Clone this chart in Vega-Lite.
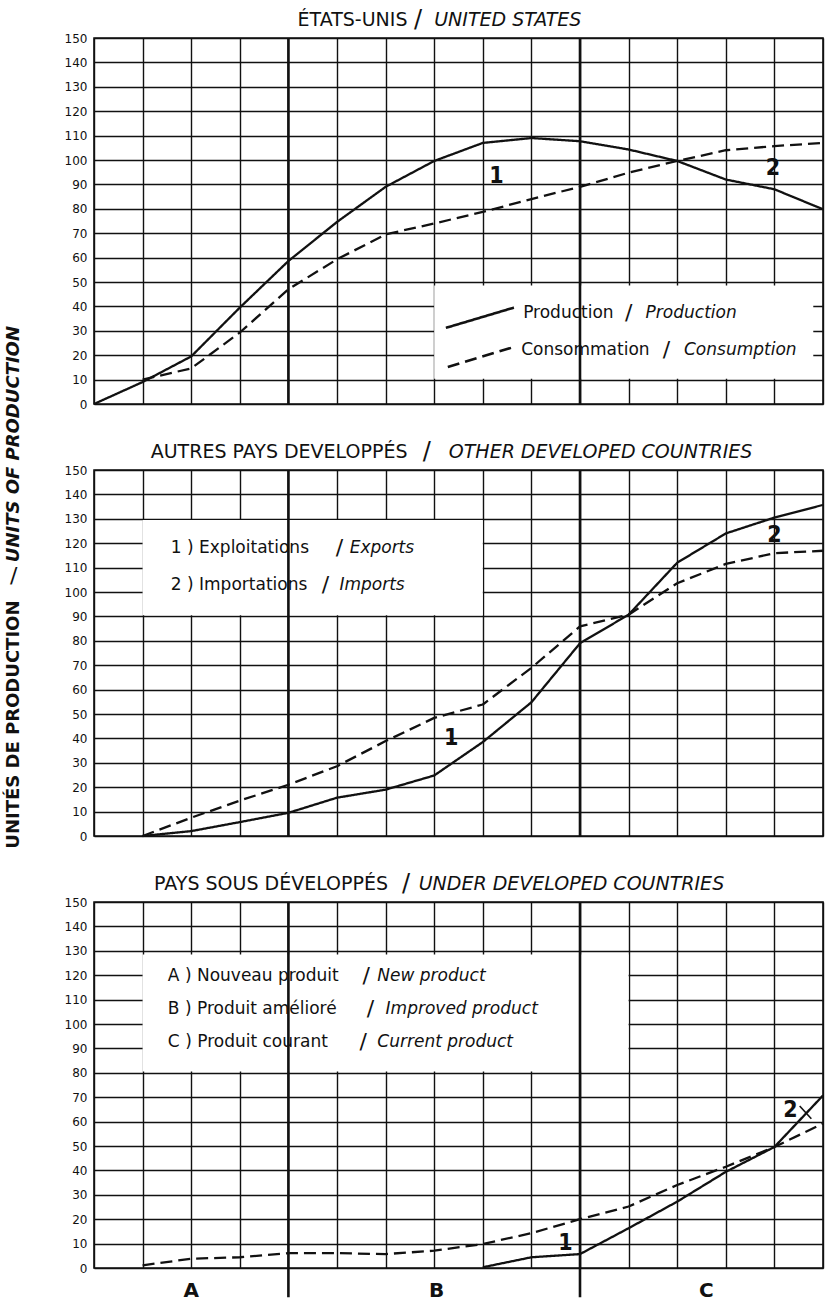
{
  "$schema": "https://vega.github.io/schema/vega-lite/v6.json",
  "background": "white",
  "padding": {"left": 4, "top": 6, "right": 5, "bottom": 4},
  "data": {"values": [
    {"panel":"US","kind":"box","x":7,"x2":14.8,"y":10.3,"y2":48.6},
    {"panel":"ODC","kind":"box","x":1,"x2":8,"y":90.5,"y2":129.5},
    {"panel":"UDC","kind":"box","x":1,"x2":11,"y":80.5,"y2":128.5},
    {"panel":"US","kind":"divider","x":4,"y":150,"y2":0},
    {"panel":"US","kind":"divider","x":10,"y":150,"y2":0},
    {"panel":"ODC","kind":"divider","x":4,"y":150,"y2":0},
    {"panel":"ODC","kind":"divider","x":10,"y":150,"y2":0},
    {"panel":"UDC","kind":"divider","x":4,"y":150,"y2":-12},
    {"panel":"UDC","kind":"divider","x":10,"y":150,"y2":-12},

    {"panel":"US","kind":"curve","series":"1","x":0,"y":0},
    {"panel":"US","kind":"curve","series":"1","x":1,"y":9},
    {"panel":"US","kind":"curve","series":"1","x":2,"y":19.5},
    {"panel":"US","kind":"curve","series":"1","x":3,"y":39.5},
    {"panel":"US","kind":"curve","series":"1","x":4,"y":58.6},
    {"panel":"US","kind":"curve","series":"1","x":5,"y":74.6},
    {"panel":"US","kind":"curve","series":"1","x":6,"y":89},
    {"panel":"US","kind":"curve","series":"1","x":7,"y":99.6},
    {"panel":"US","kind":"curve","series":"1","x":8,"y":107},
    {"panel":"US","kind":"curve","series":"1","x":9,"y":109},
    {"panel":"US","kind":"curve","series":"1","x":10,"y":107.7},
    {"panel":"US","kind":"curve","series":"1","x":11,"y":104.3},
    {"panel":"US","kind":"curve","series":"1","x":12,"y":99.6},
    {"panel":"US","kind":"curve","series":"1","x":13,"y":92},
    {"panel":"US","kind":"curve","series":"1","x":14,"y":88},
    {"panel":"US","kind":"curve","series":"1","x":15,"y":79.8},
    {"panel":"US","kind":"curve","series":"2","x":1,"y":10},
    {"panel":"US","kind":"curve","series":"2","x":2,"y":14.6},
    {"panel":"US","kind":"curve","series":"2","x":3,"y":29.3},
    {"panel":"US","kind":"curve","series":"2","x":4,"y":47},
    {"panel":"US","kind":"curve","series":"2","x":5,"y":59.3},
    {"panel":"US","kind":"curve","series":"2","x":6,"y":69.5},
    {"panel":"US","kind":"curve","series":"2","x":7,"y":74},
    {"panel":"US","kind":"curve","series":"2","x":8,"y":78.7},
    {"panel":"US","kind":"curve","series":"2","x":9,"y":84},
    {"panel":"US","kind":"curve","series":"2","x":10,"y":89},
    {"panel":"US","kind":"curve","series":"2","x":11,"y":94.8},
    {"panel":"US","kind":"curve","series":"2","x":12,"y":99.6},
    {"panel":"US","kind":"curve","series":"2","x":13,"y":104},
    {"panel":"US","kind":"curve","series":"2","x":14,"y":105.7},
    {"panel":"US","kind":"curve","series":"2","x":15,"y":107},

    {"panel":"ODC","kind":"curve","series":"1","x":1,"y":0},
    {"panel":"ODC","kind":"curve","series":"1","x":2,"y":2},
    {"panel":"ODC","kind":"curve","series":"1","x":3,"y":5.7},
    {"panel":"ODC","kind":"curve","series":"1","x":4,"y":9.5},
    {"panel":"ODC","kind":"curve","series":"1","x":5,"y":15.7},
    {"panel":"ODC","kind":"curve","series":"1","x":6,"y":19},
    {"panel":"ODC","kind":"curve","series":"1","x":7,"y":24.8},
    {"panel":"ODC","kind":"curve","series":"1","x":8,"y":38.5},
    {"panel":"ODC","kind":"curve","series":"1","x":9,"y":54.8},
    {"panel":"ODC","kind":"curve","series":"1","x":10,"y":79},
    {"panel":"ODC","kind":"curve","series":"1","x":11,"y":90.7},
    {"panel":"ODC","kind":"curve","series":"1","x":12,"y":112},
    {"panel":"ODC","kind":"curve","series":"1","x":13,"y":124},
    {"panel":"ODC","kind":"curve","series":"1","x":14,"y":130.5},
    {"panel":"ODC","kind":"curve","series":"1","x":15,"y":135.7},
    {"panel":"ODC","kind":"curve","series":"2","x":1,"y":0},
    {"panel":"ODC","kind":"curve","series":"2","x":2,"y":7.5},
    {"panel":"ODC","kind":"curve","series":"2","x":3,"y":14.5},
    {"panel":"ODC","kind":"curve","series":"2","x":4,"y":21},
    {"panel":"ODC","kind":"curve","series":"2","x":5,"y":28.6},
    {"panel":"ODC","kind":"curve","series":"2","x":6,"y":38.9},
    {"panel":"ODC","kind":"curve","series":"2","x":7,"y":48.4},
    {"panel":"ODC","kind":"curve","series":"2","x":8,"y":53.9},
    {"panel":"ODC","kind":"curve","series":"2","x":9,"y":68.9},
    {"panel":"ODC","kind":"curve","series":"2","x":10,"y":85.9},
    {"panel":"ODC","kind":"curve","series":"2","x":11,"y":90.7},
    {"panel":"ODC","kind":"curve","series":"2","x":12,"y":103.6},
    {"panel":"ODC","kind":"curve","series":"2","x":13,"y":111.5},
    {"panel":"ODC","kind":"curve","series":"2","x":14,"y":115.9},
    {"panel":"ODC","kind":"curve","series":"2","x":15,"y":116.9},

    {"panel":"UDC","kind":"curve","series":"2","x":1,"y":1.1},
    {"panel":"UDC","kind":"curve","series":"2","x":2,"y":3.8},
    {"panel":"UDC","kind":"curve","series":"2","x":3,"y":4.4},
    {"panel":"UDC","kind":"curve","series":"2","x":4,"y":6.1},
    {"panel":"UDC","kind":"curve","series":"2","x":5,"y":6.1},
    {"panel":"UDC","kind":"curve","series":"2","x":6,"y":5.7},
    {"panel":"UDC","kind":"curve","series":"2","x":7,"y":7.1},
    {"panel":"UDC","kind":"curve","series":"2","x":8,"y":9.8},
    {"panel":"UDC","kind":"curve","series":"2","x":9,"y":14.3},
    {"panel":"UDC","kind":"curve","series":"2","x":10,"y":20},
    {"panel":"UDC","kind":"curve","series":"2","x":11,"y":25.2},
    {"panel":"UDC","kind":"curve","series":"2","x":12,"y":34},
    {"panel":"UDC","kind":"curve","series":"2","x":13,"y":41.5},
    {"panel":"UDC","kind":"curve","series":"2","x":14,"y":49.6},
    {"panel":"UDC","kind":"curve","series":"2","x":15,"y":59.2},
    {"panel":"UDC","kind":"curve","series":"1","x":8,"y":0.3},
    {"panel":"UDC","kind":"curve","series":"1","x":9,"y":4.4},
    {"panel":"UDC","kind":"curve","series":"1","x":10,"y":5.7},
    {"panel":"UDC","kind":"curve","series":"1","x":11,"y":16.3},
    {"panel":"UDC","kind":"curve","series":"1","x":12,"y":27.2},
    {"panel":"UDC","kind":"curve","series":"1","x":13,"y":39.4},
    {"panel":"UDC","kind":"curve","series":"1","x":14,"y":49.6},
    {"panel":"UDC","kind":"curve","series":"1","x":15,"y":70.7},

    {"panel":"US","kind":"keyline","series":"1","x":7.24,"y":31.2},
    {"panel":"US","kind":"keyline","series":"1","x":8.64,"y":39.5},
    {"panel":"US","kind":"keyline","series":"2","x":7.28,"y":15.2},
    {"panel":"US","kind":"keyline","series":"2","x":8.58,"y":23},
    {"panel":"UDC","kind":"pointer","series":"1","x":14.52,"y":66.4},
    {"panel":"UDC","kind":"pointer","series":"1","x":14.76,"y":61.2},

    {"panel":"US","kind":"title-fr","x":6.45,"y":157.5,"text":"ÉTATS-UNIS"},
    {"panel":"US","kind":"title-sep","x":6.67,"y":157.5,"text":"/"},
    {"panel":"US","kind":"title-en","x":7.0,"y":157.5,"text":"UNITED STATES"},
    {"panel":"US","kind":"key-fr","x":8.83,"y":37.4,"text":"Production"},
    {"panel":"US","kind":"key-sep","x":11.0,"y":37.4,"text":"/"},
    {"panel":"US","kind":"key-en","x":11.35,"y":37.4,"text":"Production"},
    {"panel":"US","kind":"key-fr","x":8.79,"y":22.2,"text":"Consommation"},
    {"panel":"US","kind":"key-sep","x":11.78,"y":22.2,"text":"/"},
    {"panel":"US","kind":"key-en","x":12.14,"y":22.2,"text":"Consumption"},
    {"panel":"US","kind":"num","x":8.28,"y":93.4,"text":"1"},
    {"panel":"US","kind":"num","x":13.97,"y":96.8,"text":"2"},

    {"panel":"ODC","kind":"title-fr","x":6.45,"y":157.5,"text":"AUTRES PAYS DEVELOPPÉS"},
    {"panel":"ODC","kind":"title-sep","x":6.85,"y":157.5,"text":"/"},
    {"panel":"ODC","kind":"title-en","x":7.3,"y":157.5,"text":"OTHER DEVELOPED COUNTRIES"},
    {"panel":"ODC","kind":"key-fr","x":1.58,"y":118,"text":"1 ) Exploitations"},
    {"panel":"ODC","kind":"key-sep","x":5.05,"y":118,"text":"/"},
    {"panel":"ODC","kind":"key-en","x":5.26,"y":118,"text":"Exports"},
    {"panel":"ODC","kind":"key-fr","x":1.58,"y":103,"text":"2 ) Importations"},
    {"panel":"ODC","kind":"key-sep","x":4.76,"y":103,"text":"/"},
    {"panel":"ODC","kind":"key-en","x":5.05,"y":103,"text":"Imports"},
    {"panel":"ODC","kind":"num","x":7.35,"y":40.2,"text":"1"},
    {"panel":"ODC","kind":"num","x":14.0,"y":123.4,"text":"2"},
    {"panel":"ODC","kind":"axis-fr","x":-1.65,"y":96.5,"text":"UNITÉS DE PRODUCTION"},
    {"panel":"ODC","kind":"axis-sep","x":-1.65,"y":106.4,"text":"/"},
    {"panel":"ODC","kind":"axis-en","x":-1.65,"y":112.2,"text":"UNITS OF PRODUCTION"},

    {"panel":"UDC","kind":"title-fr","x":6.05,"y":157.5,"text":"PAYS SOUS DÉVELOPPÉS"},
    {"panel":"UDC","kind":"title-sep","x":6.42,"y":157.5,"text":"/"},
    {"panel":"UDC","kind":"title-en","x":6.68,"y":157.5,"text":"UNDER DEVELOPED COUNTRIES"},
    {"panel":"UDC","kind":"key-fr","x":1.52,"y":119.7,"text":"A ) Nouveau produit"},
    {"panel":"UDC","kind":"key-sep","x":5.6,"y":119.7,"text":"/"},
    {"panel":"UDC","kind":"key-en","x":5.83,"y":119.7,"text":"New product"},
    {"panel":"UDC","kind":"key-fr","x":1.52,"y":106,"text":"B ) Produit amélioré"},
    {"panel":"UDC","kind":"key-sep","x":5.69,"y":106,"text":"/"},
    {"panel":"UDC","kind":"key-en","x":6.0,"y":106,"text":"Improved product"},
    {"panel":"UDC","kind":"key-fr","x":1.52,"y":92.5,"text":"C ) Produit courant"},
    {"panel":"UDC","kind":"key-sep","x":5.54,"y":92.5,"text":"/"},
    {"panel":"UDC","kind":"key-en","x":5.83,"y":92.5,"text":"Current product"},
    {"panel":"UDC","kind":"num","x":9.7,"y":10.2,"text":"1"},
    {"panel":"UDC","kind":"num","x":14.33,"y":64.6,"text":"2"},
    {"panel":"UDC","kind":"phase","x":2,"y":-9.5,"text":"A"},
    {"panel":"UDC","kind":"phase","x":7.05,"y":-9.5,"text":"B"},
    {"panel":"UDC","kind":"phase","x":12.6,"y":-9.5,"text":"C"}
  ]},
  "facet": {"row": {"field": "panel", "type": "nominal", "sort": ["US", "ODC", "UDC"], "header": null, "title": null}},
  "spacing": {"row": 66},
  "bounds": "flush",
  "spec": {
    "width": 729,
    "height": 366,
    "encoding": {
      "x": {"field": "x", "type": "quantitative", "scale": {"domain": [0, 15], "nice": false, "zero": false},
        "axis": {"values": [0,1,2,3,4,5,6,7,8,9,10,11,12,13,14,15], "labels": false, "ticks": false, "domain": false, "grid": true, "title": null}},
      "y": {"field": "y", "type": "quantitative", "scale": {"domain": [0, 150], "nice": false},
        "axis": {"values": [0,10,20,30,40,50,60,70,80,90,100,110,120,130,140,150], "ticks": false, "domain": false, "grid": true, "title": null, "labelPadding": 7}}
    },
    "layer": [
      {"transform": [{"filter": "datum.kind == 'box'"}], "mark": {"type": "rect", "fill": "white", "strokeWidth": 0},
        "encoding": {"x2": {"field": "x2"}, "y2": {"field": "y2"}}},
      {"transform": [{"filter": "datum.kind == 'divider'"}], "mark": {"type": "rule", "color": "#111", "strokeWidth": 2.6},
        "encoding": {"y2": {"field": "y2"}}},
      {"transform": [{"filter": "datum.kind == 'curve'"}], "mark": {"type": "line", "color": "#111", "strokeWidth": 2.3, "strokeJoin": "round"},
        "encoding": {"strokeDash": {"field": "series", "type": "nominal", "scale": {"domain": ["1", "2"], "range": [[1, 0], [12, 6]]}, "legend": null}}},
      {"transform": [{"filter": "datum.kind == 'keyline'"}], "mark": {"type": "line", "color": "#111", "strokeWidth": 2.6},
        "encoding": {"strokeDash": {"field": "series", "type": "nominal", "scale": {"domain": ["1", "2"], "range": [[1, 0], [12, 6]]}, "legend": null}}},
      {"transform": [{"filter": "datum.kind == 'pointer'"}], "mark": {"type": "line", "color": "#111", "strokeWidth": 1.6},
        "encoding": {}},
      {"transform": [{"filter": "datum.kind == 'title-fr'"}], "mark": {"type": "text", "align": "right", "baseline": "middle", "fontSize": 19, "color": "#111"},
        "encoding": {"text": {"field": "text"}}},
      {"transform": [{"filter": "datum.kind == 'title-sep'"}], "mark": {"type": "text", "align": "center", "baseline": "middle", "fontSize": 24, "color": "#111"},
        "encoding": {"text": {"field": "text"}}},
      {"transform": [{"filter": "datum.kind == 'title-en'"}], "mark": {"type": "text", "align": "left", "baseline": "middle", "fontSize": 19, "fontStyle": "italic", "color": "#111"},
        "encoding": {"text": {"field": "text"}}},
      {"transform": [{"filter": "datum.kind == 'key-fr'"}], "mark": {"type": "text", "align": "left", "baseline": "middle", "fontSize": 17, "color": "#111"},
        "encoding": {"text": {"field": "text"}}},
      {"transform": [{"filter": "datum.kind == 'key-sep'"}], "mark": {"type": "text", "align": "center", "baseline": "middle", "fontSize": 22, "color": "#111"},
        "encoding": {"text": {"field": "text"}}},
      {"transform": [{"filter": "datum.kind == 'key-en'"}], "mark": {"type": "text", "align": "left", "baseline": "middle", "fontSize": 17, "fontStyle": "italic", "color": "#111"},
        "encoding": {"text": {"field": "text"}}},
      {"transform": [{"filter": "datum.kind == 'num'"}], "mark": {"type": "text", "align": "center", "baseline": "middle", "fontSize": 23, "fontWeight": "bold", "font": "DejaVu Sans Condensed, DejaVu Sans", "color": "#111"},
        "encoding": {"text": {"field": "text"}}},
      {"transform": [{"filter": "datum.kind == 'phase'"}], "mark": {"type": "text", "align": "center", "baseline": "middle", "fontSize": 20, "fontWeight": "bold", "color": "#111"},
        "encoding": {"text": {"field": "text"}}},
      {"transform": [{"filter": "datum.kind == 'axis-fr'"}], "mark": {"type": "text", "align": "right", "baseline": "middle", "angle": 270, "fontSize": 18, "fontWeight": "bold", "color": "#111"},
        "encoding": {"text": {"field": "text"}}},
      {"transform": [{"filter": "datum.kind == 'axis-sep'"}], "mark": {"type": "text", "align": "center", "baseline": "middle", "fontSize": 22, "color": "#111"},
        "encoding": {"text": {"field": "text"}}},
      {"transform": [{"filter": "datum.kind == 'axis-en'"}], "mark": {"type": "text", "align": "left", "baseline": "middle", "angle": 270, "fontSize": 18, "fontWeight": "bold", "fontStyle": "italic", "color": "#111"},
        "encoding": {"text": {"field": "text"}}}
    ]
  },
  "config": {
    "font": "DejaVu Sans",
    "view": {"stroke": "#111", "strokeWidth": 1.6},
    "axis": {"gridColor": "#111", "gridOpacity": 1, "gridWidth": 1.4, "labelColor": "#111", "labelFontSize": 12, "labelFont": "DejaVu Sans"}
  }
}
